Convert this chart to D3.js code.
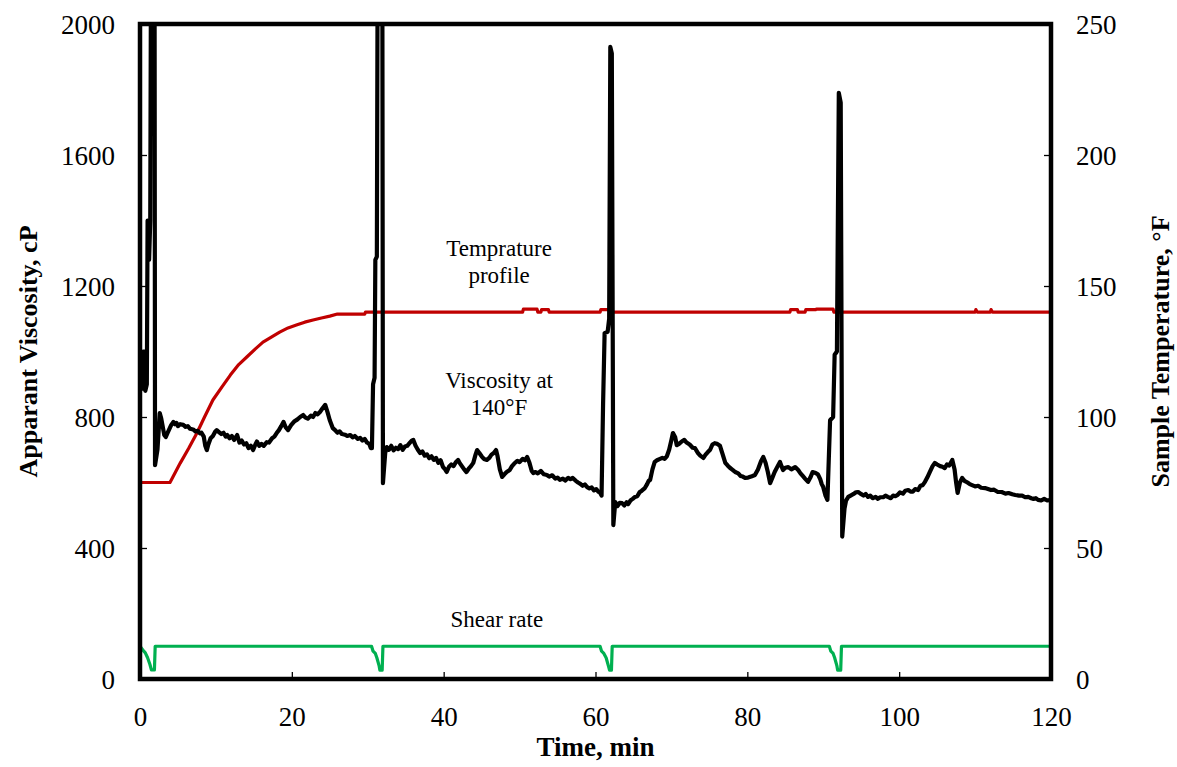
<!DOCTYPE html>
<html>
<head>
<meta charset="utf-8">
<script src="https://cdn.jsdelivr.net/npm/d3@7"></script>
<style>
  html, body { margin: 0; padding: 0; background: #fff; }
  svg { display: block; }
  text { font-family: "Liberation Serif", "Times New Roman", serif; fill: #000; }
</style>
</head>
<body>
<svg id="chart" width="1177" height="767"></svg>
<script>
// Apparent viscosity readings [time (min), viscosity (cP)]
const viscosityReadings = [
  [0.3, 880], [0.4, 1000], [0.6, 1000], [0.7, 880], [0.9, 900], [1.0, 1400], [1.2, 1280], [1.35, 1400],
  [1.5, 2600], [1.9, 2600], [1.98, 653], [2.3, 700],
  [2.6, 812], [2.8, 795], [3.0, 770], [3.2, 745], [3.4, 739], [3.6, 750], [3.8, 760], [4.1, 775], [4.4, 785],
  [4.6, 778], [4.8, 782], [5.0, 772], [5.3, 778], [5.7, 776], [6.0, 770], [6.3, 772], [6.6, 764], [7.0, 762],
  [7.3, 756], [7.6, 758], [7.9, 750], [8.1, 752], [8.4, 740], [8.6, 712], [8.8, 699], [9.0, 716], [9.3, 735],
  [9.6, 742], [9.9, 755], [10.1, 760], [10.4, 754], [10.7, 748], [11.0, 752], [11.3, 740], [11.5, 745],
  [11.8, 735], [12.1, 742], [12.4, 730], [12.8, 745], [13.1, 722], [13.4, 728], [13.7, 716], [14.0, 720],
  [14.3, 705], [14.6, 712], [14.9, 699], [15.2, 716], [15.4, 725], [15.7, 712], [16.0, 718], [16.3, 712],
  [16.7, 723], [17.0, 722], [17.4, 735], [17.7, 740], [18.0, 751], [18.3, 760], [18.6, 772], [18.9, 785],
  [19.2, 768], [19.5, 760], [19.9, 775], [20.3, 786], [20.7, 792], [21.1, 800], [21.5, 806], [21.8, 798],
  [22.1, 795], [22.5, 804], [22.8, 800], [23.1, 812], [23.4, 808], [23.7, 815], [24.0, 825], [24.4, 837],
  [24.7, 815], [25.0, 790], [25.4, 766], [25.7, 760], [26.0, 752], [26.3, 756], [26.6, 748], [27.0, 746],
  [27.3, 742], [27.7, 745], [28.0, 738], [28.3, 742], [28.7, 733], [29.0, 736], [29.3, 728], [29.6, 733],
  [29.9, 722], [30.2, 718], [30.4, 705],
  [30.55, 705], [30.7, 900], [30.9, 920], [31.0, 1280], [31.2, 1290], [31.35, 2600], [31.9, 2600], [32.0, 598],
  [32.3, 690], [32.5, 708], [32.8, 700], [33.1, 712], [33.4, 698], [33.7, 706], [34.0, 702], [34.3, 714],
  [34.6, 700], [34.9, 710], [35.2, 712], [35.5, 720], [35.8, 728], [36.0, 730], [36.3, 712], [36.6, 700],
  [36.9, 690], [37.2, 695], [37.5, 682], [37.8, 686], [38.1, 674], [38.4, 680], [38.7, 669], [39.0, 675],
  [39.3, 660], [39.6, 668], [39.9, 648], [40.2, 640], [40.4, 632], [40.7, 648], [41.0, 655], [41.3, 650],
  [41.6, 662], [41.9, 669], [42.1, 660], [42.4, 650], [42.7, 640], [43.0, 632], [43.3, 642], [43.6, 650],
  [43.9, 660], [44.2, 685], [44.4, 699], [44.7, 690], [45.0, 680], [45.3, 672], [45.7, 669], [46.0, 675],
  [46.3, 685], [46.6, 690], [46.9, 699], [47.1, 680], [47.4, 640], [47.7, 617], [48.0, 625], [48.3, 632],
  [48.7, 638], [49.0, 650], [49.3, 658], [49.7, 666], [50.0, 662], [50.4, 672], [50.7, 668], [51.0, 678],
  [51.3, 660], [51.6, 635], [51.8, 629], [52.1, 632], [52.4, 628], [52.8, 635], [53.2, 625], [53.6, 623],
  [53.9, 618], [54.3, 622], [54.7, 612], [55.0, 615], [55.3, 608], [55.7, 612], [56.0, 606], [56.4, 614],
  [56.7, 610], [57.0, 614], [57.4, 605], [57.7, 600], [58.0, 596], [58.3, 590], [58.6, 594], [58.9, 586],
  [59.2, 582], [59.5, 585], [59.8, 576], [60.1, 580], [60.4, 571],
  [60.55, 571], [60.8, 560], [61.0, 843], [61.2, 1056], [61.6, 1060], [61.8, 1100], [61.95, 1930],
  [62.15, 1910], [62.35, 470],
  [62.6, 540], [62.9, 528], [63.2, 538], [63.5, 537], [63.8, 530], [64.1, 540], [64.3, 534], [64.6, 545],
  [64.9, 550], [65.2, 556], [65.5, 558], [65.8, 570], [66.1, 575], [66.5, 583], [66.8, 595], [67.0, 605],
  [67.2, 608], [67.5, 640], [67.8, 663], [68.1, 668], [68.5, 672], [68.8, 675], [69.1, 672], [69.4, 680],
  [69.7, 700], [70.0, 730], [70.2, 751], [70.5, 738], [70.7, 714], [71.0, 718], [71.4, 726], [71.7, 730],
  [72.0, 722], [72.4, 716], [72.8, 706], [73.1, 705], [73.5, 690], [73.8, 682], [74.2, 675], [74.5, 685],
  [74.8, 693], [75.1, 700], [75.4, 716], [75.7, 720], [76.0, 718], [76.4, 712], [76.7, 690], [77.1, 660],
  [77.4, 652], [77.7, 645], [78.1, 638], [78.4, 632], [78.8, 628], [79.1, 620], [79.4, 618], [79.7, 614],
  [80.1, 615], [80.5, 618], [81.0, 623], [81.4, 640], [81.8, 665], [82.1, 678], [82.4, 660], [82.7, 632],
  [83.0, 598], [83.3, 615], [83.6, 632], [84.0, 650], [84.3, 663], [84.5, 650], [84.7, 638], [85.0, 645],
  [85.4, 647], [85.8, 640], [86.3, 647], [86.7, 638], [87.0, 628], [87.3, 620], [87.6, 612], [88.0, 602],
  [88.3, 615], [88.6, 632], [88.9, 630], [89.3, 625], [89.6, 610], [89.8, 595], [90.0, 586], [90.3, 560],
  [90.55, 547], [90.9, 790], [91.3, 800], [91.5, 990], [91.8, 1000], [92.05, 1790], [92.3, 1760], [92.5, 435],
  [92.8, 520], [93.0, 545], [93.3, 556], [93.6, 560], [94.0, 565], [94.3, 570], [94.6, 571], [94.9, 566],
  [95.3, 560], [95.6, 565], [95.9, 556], [96.2, 560], [96.5, 552], [96.9, 556], [97.2, 550], [97.5, 555],
  [97.9, 555], [98.2, 560], [98.5, 556], [98.9, 552], [99.2, 560], [99.5, 558], [99.8, 562], [100.1, 570],
  [100.5, 566], [100.8, 575], [101.2, 577], [101.5, 572], [101.8, 572], [102.1, 580], [102.5, 577],
  [102.8, 590], [103.1, 592], [103.4, 602], [103.7, 615], [104.0, 630], [104.4, 650], [104.7, 660],
  [105.0, 655], [105.4, 650], [105.7, 648], [106.0, 644], [106.3, 655], [106.6, 652], [107.0, 669],
  [107.3, 640], [107.5, 600], [107.7, 568], [108.0, 600], [108.3, 614], [108.6, 605], [109.0, 600],
  [109.3, 595], [109.6, 592], [110.0, 588], [110.4, 590], [110.8, 584], [111.3, 583], [111.7, 580],
  [112.1, 577], [112.5, 578], [113.0, 571], [113.5, 571], [114.0, 566], [114.4, 568], [114.9, 564],
  [115.3, 562], [115.8, 560], [116.2, 560], [116.6, 555], [117.0, 556], [117.4, 552], [117.7, 550],
  [118.0, 552], [118.3, 547], [118.7, 545], [119.1, 550], [119.5, 545], [120.0, 547]
];

// Sample temperature readings [time (min), temperature (°F)]
const temperatureReadings = [
  [0, 75], [3.95, 75], [5.3, 82.4], [6.4, 88], [7.5, 93.9], [8.5, 100], [9.6, 106.5], [10.8, 111.5],
  [11.9, 116], [13.0, 120], [14.1, 123], [15.2, 126], [16.2, 128.6], [17.3, 130.5], [18.4, 132.4],
  [19.5, 134], [20.6, 135.1], [21.7, 136.2], [22.8, 137], [23.9, 137.8], [25.0, 138.5], [26.0, 139.3],
  [29.6, 139.3], [29.7, 140], [50.4, 140], [50.5, 141.2], [52.3, 141.2], [52.4, 140], [52.8, 140],
  [52.9, 141], [53.8, 141], [53.9, 140], [60.6, 140], [60.7, 141], [61.9, 141], [62.0, 140],
  [85.6, 140], [85.7, 141], [86.6, 141], [86.7, 140], [87.6, 140], [87.7, 141], [89.0, 141],
  [89.1, 141.2], [91.3, 141.2], [91.4, 140], [110.0, 140], [110.1, 141], [110.3, 140], [112.0, 140],
  [112.1, 141], [112.3, 140], [120, 140]
];

// Shear rate readings [time (min), shear rate (left-axis units)]
const shearReadings = [
  [0, 100], [0.5, 85], [0.7, 80], [1.0, 65], [1.3, 45], [1.5, 28], [1.9, 28], [2.0, 100],
  [30.5, 100], [30.7, 85], [31.0, 78], [31.2, 65], [31.5, 40], [31.6, 27], [31.9, 27], [32.0, 100],
  [60.6, 100], [60.8, 85], [61.1, 78], [61.4, 65], [61.7, 40], [61.85, 27], [62.1, 27], [62.2, 100],
  [90.8, 100], [91.0, 85], [91.3, 78], [91.5, 65], [91.8, 40], [91.9, 27], [92.3, 27], [92.4, 100],
  [120, 100]
];

const timeTicks = [0, 20, 40, 60, 80, 100, 120];
const viscTicks = [0, 400, 800, 1200, 1600, 2000];
const tempTicks = [0, 50, 100, 150, 200, 250];

const svg = d3.select("#chart");
const plot = { left: 140, right: 1051, top: 24, bottom: 679 };

const x = d3.scaleLinear().domain([0, 120]).range([plot.left, plot.right]);
const yL = d3.scaleLinear().domain([0, 2000]).range([plot.bottom, plot.top]);
const yR = d3.scaleLinear().domain([0, 250]).range([plot.bottom, plot.top]);

svg.append("defs").append("clipPath").attr("id", "plotClip")
  .append("rect")
  .attr("x", plot.left).attr("y", plot.top)
  .attr("width", plot.right - plot.left).attr("height", plot.bottom - plot.top);

// Axes: ticks drawn inward, labels placed outside the frame
const tickFont = "27px";
const xAxis = d3.axisBottom(x).tickValues(timeTicks).tickSize(-7).tickPadding(28).tickFormat(d3.format("d"));
const yAxisL = d3.axisLeft(yL).tickValues(viscTicks).tickSize(-7).tickPadding(25).tickFormat(d3.format("d"));
const yAxisR = d3.axisRight(yR).tickValues(tempTicks).tickSize(-7).tickPadding(25).tickFormat(d3.format("d"));

function styleAxis(g) {
  g.select(".domain").remove();
  g.selectAll(".tick line").attr("stroke", "#000").attr("stroke-width", 1.3);
  g.selectAll(".tick text")
    .style("font-family", '"Liberation Serif", "Times New Roman", serif')
    .style("font-size", tickFont).attr("fill", "#000");
}

svg.append("g").attr("transform", `translate(0,${plot.bottom})`).call(xAxis).call(styleAxis);
svg.append("g").attr("transform", `translate(${plot.left},0)`).call(yAxisL).call(styleAxis)
  .selectAll(".tick text").attr("dy", "0.34em");
svg.append("g").attr("transform", `translate(${plot.right},0)`).call(yAxisR).call(styleAxis)
  .selectAll(".tick text").attr("dy", "0.34em");

const lines = svg.append("g").attr("clip-path", "url(#plotClip)");

const shearLine = d3.line().x(d => x(d[0])).y(d => yL(d[1]));
lines.append("path").datum(shearReadings)
  .attr("d", shearLine).attr("fill", "none")
  .attr("stroke", "#00B050").attr("stroke-width", 3.2).attr("stroke-linejoin", "round");

const tempLine = d3.line().x(d => x(d[0])).y(d => yR(d[1]));
lines.append("path").datum(temperatureReadings)
  .attr("d", tempLine).attr("fill", "none")
  .attr("stroke", "#C00000").attr("stroke-width", 3.2).attr("stroke-linejoin", "round");

const viscLine = d3.line().x(d => x(d[0])).y(d => yL(d[1]));
lines.append("path").datum(viscosityReadings)
  .attr("d", viscLine).attr("fill", "none")
  .attr("stroke", "#000").attr("stroke-width", 4.2).attr("stroke-linejoin", "round");

// Plot frame
svg.append("rect")
  .attr("x", plot.left).attr("y", plot.top)
  .attr("width", plot.right - plot.left).attr("height", plot.bottom - plot.top)
  .attr("fill", "none").attr("stroke", "#000").attr("stroke-width", 4.5);

// Axis titles
svg.append("text")
  .attr("x", (plot.left + plot.right) / 2).attr("y", 756)
  .attr("text-anchor", "middle").style("font-size", "27px").style("font-weight", "bold")
  .text("Time, min");

svg.append("text")
  .attr("transform", `translate(37,${(plot.top + plot.bottom) / 2}) rotate(-90)`)
  .attr("text-anchor", "middle").style("font-size", "26px").style("font-weight", "bold")
  .text("Apparant Viscosity, cP");

svg.append("text")
  .attr("transform", `translate(1169,${(plot.top + plot.bottom) / 2}) rotate(-90)`)
  .attr("text-anchor", "middle").style("font-size", "26px").style("font-weight", "bold")
  .text("Sample Temperature, °F");

// Series annotations
function annotate(cx, yTop, textLines) {
  const t = svg.append("text").attr("text-anchor", "middle").style("font-size", "23px");
  textLines.forEach((s, i) => {
    t.append("tspan").attr("x", cx).attr("y", yTop + i * 27).text(s);
  });
}
annotate(x(47.3), 256, ["Temprature", "profile"]);
annotate(x(47.3), 388, ["Viscosity at", "140°F"]);
annotate(x(47.0), 627, ["Shear rate"]);
</script>
</body>
</html>
